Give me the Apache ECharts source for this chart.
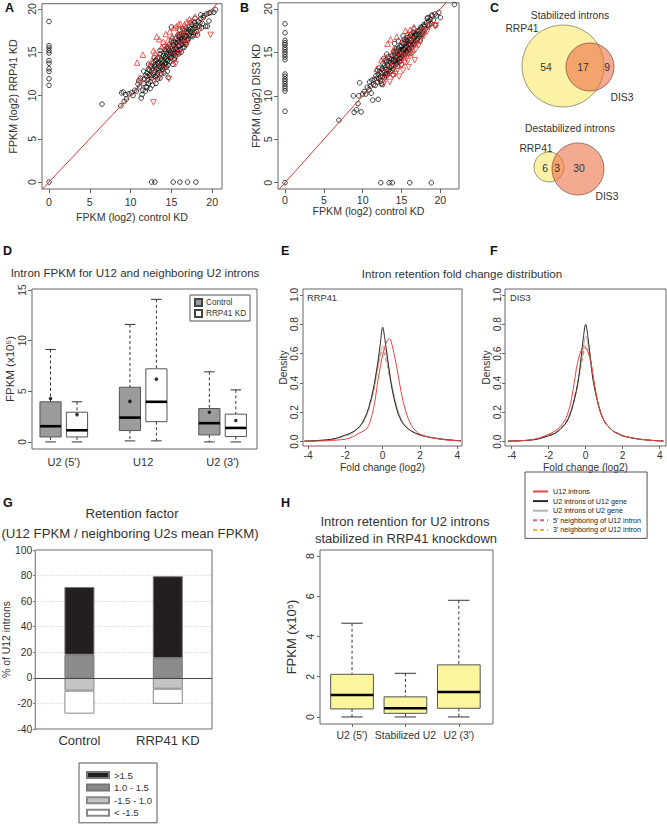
<!DOCTYPE html>
<html><head><meta charset="utf-8">
<script src="https://cdn.jsdelivr.net/npm/echarts@6/dist/echarts.min.js"></script>
<style>html,body{margin:0;padding:0;background:#fff}#c{width:667px;height:826px}</style>
</head><body><div id="c"></div>
<script>
// ---------------- DATA ----------------
const aBlack = [[8.8,8.8],[8.9,10.3],[9.1,10.4],[9.2,9.3],[9.4,10.1],[9.5,9.6],[9.8,10.2],[10.1,10.3],[10.3,10.0],[10.5,10.6],[10.7,10.5],[10.9,11.3],[11.0,11.7],[11.1,11.0],[11.3,9.7],[11.4,10.1],[11.5,10.6],[11.2,12.0],[11.6,11.4],[11.8,12.3],[11.9,11.0],[11.7,11.9],
[12.0,12.6],[12.1,11.8],[12.2,13.0],[12.3,12.4],[12.4,11.6],[12.5,13.4],[12.6,12.9],[12.6,12.0],[12.7,11.2],[12.8,13.8],[12.9,12.7],[12.0,12.2],[12.3,12.9],[12.5,12.3],[12.7,13.1],[12.9,13.5],[12.2,11.4],[12.8,12.4],
[13.0,13.3],[13.0,12.2],[13.1,14.1],[13.2,13.0],[13.3,12.6],[13.4,13.7],[13.5,14.4],[13.5,12.9],[13.6,13.4],[13.7,14.0],[13.8,12.5],[13.9,13.6],[13.1,13.6],[13.3,14.3],[13.4,13.1],[13.6,14.8],[13.7,13.2],[13.8,14.2],[13.9,13.0],[13.2,12.3],[13.5,13.8],[13.8,13.7],[13.0,14.0],[13.6,12.0],
[14.0,14.6],[14.0,13.9],[14.1,13.2],[14.2,14.3],[14.3,15.1],[14.3,13.7],[14.4,14.8],[14.5,14.0],[14.5,12.8],[14.6,15.4],[14.7,14.5],[14.8,13.9],[14.8,15.9],[14.9,15.0],[14.1,14.9],[14.2,13.6],[14.4,14.2],[14.6,14.1],[14.7,15.2],[14.9,14.4],[14.0,13.4],[14.3,14.5],[14.5,15.6],[14.8,14.7],[14.2,15.3],[14.6,13.5],[14.9,15.6],[14.4,13.3],
[15.0,14.4],[15.0,16.3],[15.1,15.4],[15.2,14.8],[15.2,13.6],[15.3,15.8],[15.4,15.1],[15.5,16.6],[15.5,14.6],[15.6,15.5],[15.7,16.1],[15.8,15.0],[15.9,16.8],[15.9,15.7],[15.0,15.2],[15.1,14.9],[15.3,16.2],[15.4,14.3],[15.6,16.0],[15.7,15.2],[15.8,16.4],[15.2,15.9],[15.5,15.3],[15.9,14.8],[15.1,16.6],[15.6,14.9],[15.3,15.0],[15.8,15.8],
[16.0,16.2],[16.1,15.3],[16.2,17.1],[16.2,16.5],[16.3,15.9],[16.4,16.9],[16.5,16.2],[16.6,17.5],[16.6,15.6],[16.7,16.8],[16.8,17.8],[16.9,16.4],[16.0,15.7],[16.1,16.7],[16.3,16.4],[16.4,15.5],[16.5,17.2],[16.7,16.1],[16.8,16.9],[16.9,17.3],[16.2,15.0],[16.6,16.6],[16.0,17.0],[16.4,16.2],
[17.0,17.2],[17.1,16.6],[17.2,17.9],[17.3,17.4],[17.4,16.9],[17.5,18.2],[17.6,17.6],[17.7,17.0],[17.8,18.4],[17.9,17.8],[17.0,16.4],[17.2,17.0],[17.4,17.7],[17.6,16.8],[17.8,17.3],[17.1,17.6],[17.5,17.3],[17.9,18.1],
[18.0,18.1],[18.1,17.4],[18.3,18.6],[18.4,18.0],[18.6,18.9],[18.8,18.3],[19.0,19.2],[19.2,18.0],[19.4,18.0],[19.6,19.5],[20.2,19.6],[20.4,19.9],[18.2,17.9],[18.5,18.4],[18.9,19.0],[19.3,19.4],[19.8,19.6],[18.7,17.8],
[15.0,17.9],[12.2,13.6],[12.9,14.4],[13.6,15.2],[14.2,15.7],[11.6,12.8],[15.8,17.0],[16.4,17.7],[17.9,18.9],[18.6,19.3],[19.6,18.6],[18.2,17.0],[16.8,15.9],[15.4,14.2],[14.1,12.6],[13.3,11.9],[12.0,10.9],[16.0,17.6],[17.3,18.4],[14.6,12.1],[12.4,10.8],[11.8,10.5],[13.1,11.4],
[6.5,9.0],[0,0],[0,18.55],[0,15.76],[0,15.49],[0,15.18],[0,14.91],[0,14.03],[0,13.73],[0,13.08],[0,12.77],[0,11.93],[0,11.17],
[12.57,0],[12.98,0],[15.22,0],[16.04,0],[16.98,0],[18.0,0]];
const aUp = [[10.8,13.8],[11.1,12.0],[11.5,14.7],[12.3,13.5],[12.8,15.2],[13.0,14.9],[13.2,16.8],[13.5,16.5],[13.8,15.6],[14.0,16.2],[14.3,17.1],[14.6,16.4],[14.8,17.4],[15.0,16.0],[15.3,17.8],[15.6,18.0],[15.8,17.1],[16.1,18.3],[16.3,17.3],[16.6,18.2],[16.9,18.5],[17.2,18.8],[17.5,18.6],[17.9,19.1],[14.5,15.7],[15.1,16.8],[13.4,14.5],[12.6,14.0],[15.9,18.2],[16.5,17.6]];
const aDown = [[12.8,9.2],[12.9,11.6],[14.7,11.9],[13.6,12.3],[15.5,13.6],[15.6,14.6],[16.0,14.9],[17.0,16.1],[18.0,17.0],[18.4,17.5],[19.8,17.0],[16.8,16.0],[15.2,14.0],[14.2,13.1]];

const bBlack = [[8.8,10.0],[8.9,8.1],[9.2,8.4],[9.4,9.1],[9.6,11.5],[9.8,8.15],[9.5,10.0],[10.0,10.2],[10.2,10.5],[10.4,10.2],[10.6,11.0],[10.8,10.7],[10.9,11.6],[11.0,11.1],[11.1,10.3],[11.2,11.8],[11.3,9.5],[11.4,11.3],[11.5,11.9],[11.6,11.2],[11.7,12.3],[11.8,12.0],[11.9,11.6],[12.0,9.6],[12.0,12.5],[12.1,12.0],[12.2,12.8],[12.3,11.7],[12.4,12.6],[12.5,13.1],[12.6,12.2],[12.7,12.9],[12.8,13.5],[12.9,12.5],[12.1,13.2],[12.3,12.2],[12.6,13.7],[12.8,12.1],[12.4,11.4],[12.9,13.2],
[13.0,13.0],[13.0,14.1],[13.1,12.6],[13.2,13.5],[13.3,12.9],[13.4,14.0],[13.5,13.3],[13.6,12.8],[13.7,14.2],[13.8,13.6],[13.9,13.1],[13.1,13.9],[13.3,14.5],[13.5,14.3],[13.6,13.8],[13.8,14.6],[13.9,14.0],[13.2,12.4],[13.4,13.0],[13.7,13.4],[13.0,12.3],[13.8,12.9],
[14.0,14.2],[14.0,13.5],[14.1,14.8],[14.2,14.0],[14.3,13.6],[14.4,14.6],[14.5,15.2],[14.5,14.1],[14.6,14.7],[14.7,13.9],[14.8,15.0],[14.9,14.5],[14.1,13.9],[14.2,15.1],[14.3,14.4],[14.4,13.8],[14.6,15.5],[14.7,14.3],[14.8,15.7],[14.9,14.0],[14.0,15.1],[14.3,15.4],[14.5,13.4],[14.7,15.1],[14.2,14.6],[14.9,15.3],[14.4,15.0],[14.8,14.3],
[15.0,15.0],[15.0,15.7],[15.1,14.6],[15.2,15.4],[15.3,16.0],[15.3,14.9],[15.4,15.5],[15.5,16.2],[15.5,14.8],[15.6,15.7],[15.7,15.2],[15.8,16.3],[15.8,15.5],[15.9,15.9],[15.1,16.1],[15.2,14.8],[15.4,16.5],[15.6,15.1],[15.7,16.0],[15.9,15.3],[15.0,14.3],[15.3,15.3],[15.6,16.4],[15.8,14.9],[15.1,15.2],[15.4,14.6],[15.7,16.7],[15.5,15.5],
[16.0,16.0],[16.0,15.4],[16.1,16.6],[16.2,15.9],[16.3,16.4],[16.3,15.6],[16.4,16.8],[16.5,16.2],[16.6,16.6],[16.7,16.0],[16.8,17.0],[16.9,16.5],[16.1,15.8],[16.2,17.0],[16.4,16.0],[16.5,17.3],[16.6,15.9],[16.7,16.9],[16.9,17.2],[16.0,16.8],[16.3,17.1],[16.8,16.3],
[17.0,17.0],[17.1,16.6],[17.2,17.5],[17.3,17.1],[17.4,17.6],[17.5,17.0],[17.6,17.8],[17.7,17.4],[17.8,18.0],[17.9,17.5],[17.1,17.4],[17.3,16.8],[17.5,17.9],[17.7,17.1],[17.9,18.2],[17.2,16.9],[17.6,17.3],[17.0,16.4],
[18.0,18.0],[18.1,17.7],[18.2,18.4],[18.3,18.9],[18.4,18.1],[18.5,18.6],[18.7,18.8],[18.8,18.3],[19.0,19.2],[19.1,18.7],[19.3,19.4],[19.5,19.2],[19.8,19.6],[20.0,19.0],[18.4,19.0],[18.9,19.3],[21.8,20.5],[19.4,18.1],[18.6,18.2],
[13.1,14.8],[14.1,16.0],[15.2,16.9],[16.6,17.7],[12.5,11.3],[13.9,12.4],[15.0,13.6],[16.2,14.9],[17.4,16.3],[11.9,12.9],[12.7,14.3],[14.6,16.3],
[6.94,7.19],[0,0],[0,18.28],[0,17.25],[0,16.37],[0,16.1],[0,15.87],[0,15.56],[0,15.3],[0,15.03],[0,14.76],[0,14.46],[0,14.15],[0,12.5],[0,12.24],[0,11.93],[0,11.66],[0,11.4],[0,11.1],[0,10.83],[0,10.55],[0,8.22],
[12.33,0],[13.4,0],[13.8,0],[16.06,0],[18.84,0]];
const bUp = [[11.8,13.1],[12.4,14.1],[13.2,16.0],[13.6,16.5],[14.0,15.4],[14.6,15.1],[15.5,17.5],[15.8,17.2],[16.1,17.6],[12.9,14.4],[13.8,14.9],[15.1,16.4],[16.6,17.9],[14.4,16.8]];
const bDown = [[12.9,11.9],[13.5,11.6],[13.9,12.3],[14.2,12.5],[14.5,13.0],[14.7,12.2],[15.0,13.5],[15.2,12.9],[15.4,13.8],[15.6,14.3],[15.8,14.0],[16.0,14.7],[16.2,15.2],[16.4,14.8],[16.6,15.6],[16.8,15.3],[17.0,16.0],[17.2,15.8],[17.4,16.4],[17.6,16.7],[17.9,16.9],[18.3,17.4],[18.6,18.0],[19.4,18.1],[16.7,14.1],[15.9,13.3],[14.9,14.0],[13.2,12.6],[12.7,11.3],[14.0,13.3],[15.3,14.6],[17.7,17.4],[19.3,18.0],[16.2,16.5]];
const identityLine = [[-2,-2],[24,24]];
const scatterTicks = [0,5,10,15,20];

const vennSets = ['RRP41','DIS3'];
const vennStabilized = [54,17,9];
const vennDestabilized = [6,3,30];

const dCats = ["U2 (5')", 'U12', "U2 (3')"];
const dControl = [[0,0.49,1.55,3.96,9.13],[0.1,1.12,2.4,5.4,11.6],[0,0.69,1.85,3.3,6.92]];
const dKD = [[0,0.49,1.15,2.93,3.96],[0.1,2.0,3.96,7.22,14.08],[0,0.53,1.38,2.74,5.14]];
const dControlMean = [4.29,4.0,2.93];
const dKDMean = [2.7,6.2,2.11];

const foldX = [-4.2,-4,-3.5,-3,-2.5,-2,-1.75,-1.5,-1.25,-1,-0.75,-0.5,-0.375,-0.25,-0.125,0,0.125,0.25,0.375,0.5,0.75,1,1.25,1.5,1.75,2,2.5,3,3.5,4,4.2];
const eU12 = [.002,.002,.004,.006,.01,.016,.025,.04,.058,.075,.11,.22,.31,.42,.51,.59,.65,.69,.70,.66,.51,.33,.2,.12,.075,.05,.03,.018,.01,.006,.005];
const eU2ofU12 = [.003,.004,.007,.012,.022,.045,.056,.075,.10,.15,.23,.36,.45,.55,.67,.78,.69,.58,.46,.36,.22,.14,.10,.075,.058,.045,.03,.02,.012,.007,.006];
const eU2ofU2 = [.003,.004,.007,.012,.02,.04,.05,.07,.10,.14,.22,.34,.42,.51,.59,.65,.62,.55,.46,.38,.24,.15,.10,.075,.058,.045,.03,.02,.012,.007,.006];
const e5p = [.003,.004,.007,.012,.022,.042,.052,.072,.10,.145,.23,.35,.44,.53,.60,.62,.58,.52,.44,.37,.23,.15,.10,.075,.058,.045,.03,.02,.012,.007,.006];
const e3p = [.003,.004,.007,.012,.021,.04,.05,.07,.098,.14,.22,.33,.41,.50,.57,.63,.63,.56,.47,.38,.24,.15,.10,.075,.058,.045,.03,.02,.012,.007,.006];
const fU12 = [.003,.004,.006,.012,.025,.05,.065,.087,.12,.18,.30,.50,.57,.62,.65,.64,.61,.56,.47,.37,.22,.14,.10,.07,.052,.04,.025,.015,.009,.005,.004];
const fU2ofU12 = [.003,.004,.006,.01,.02,.04,.05,.07,.10,.14,.22,.35,.44,.57,.71,.80,.71,.57,.44,.35,.22,.14,.10,.07,.055,.04,.025,.015,.009,.005,.004];
const fU2ofU2 = [.003,.004,.006,.01,.02,.04,.05,.07,.10,.14,.22,.34,.43,.54,.64,.72,.66,.56,.45,.36,.22,.14,.10,.07,.055,.04,.025,.015,.009,.005,.004];
const f5p = [.003,.004,.006,.011,.022,.045,.055,.075,.105,.15,.23,.36,.44,.53,.61,.64,.62,.55,.45,.36,.22,.14,.10,.07,.055,.04,.025,.015,.009,.005,.004];
const f3p = [.003,.004,.006,.01,.02,.04,.05,.07,.10,.14,.22,.34,.42,.51,.59,.65,.66,.59,.48,.38,.23,.145,.10,.07,.055,.04,.025,.015,.009,.005,.004];
const curveNames = ['U12 introns','U2 introns of U12 gene','U2 introns of U2 gene',"5' neighboring of U12 intron","3' neighboring of U12 intron"];
const foldTicks = [-4,-2,0,2,4];
const densTicks = [0,0.2,0.4,0.6,0.8,1.0];

const gCats = ['Control','RRP41 KD'];
const gNames = ['>1.5','1.0 - 1.5','-1.5 - 1.0','< -1.5'];
const gAbove15 = [53,64];
const g10to15 = [18,15.5];
const gM15to10 = [-10,-8.5];
const gBelowM15 = [-18,-11.8];

const hCats = ["U2 (5')", 'Stabilized U2', "U2 (3')"];
const hBoxes = [[0,0.40,1.09,2.12,4.66],[0,0.18,0.43,1.0,2.17],[0,0.43,1.24,2.59,5.8]];

// ---------------- STYLE ----------------
const FONT = 'Liberation Sans, Arial, sans-serif';
const TXT = '#333';
const FRAME = '#666';
const RED = '#e23a33';

function xy(xs, ys){ return xs.map((x,i)=>[x, ys[i]]); }

function vAxis(o){
  const a = {
    gridIndex:o.g, type:'value', min:o.min, max:o.max,
    axisLine:{show:false, onZero:false}, splitLine:{show:false},
    axisTick:{show:o.tick!==false, length:o.tickLen||4, inside:false, lineStyle:{color:FRAME}},
    axisLabel:{fontSize:o.fs||10.6, color:TXT, fontFamily:FONT, margin:o.margin||5, rotate:o.rotate||0, hideOverlap:false},
    name:o.name||'', nameLocation:'middle', nameGap:o.nameGap||20,
    nameTextStyle:{fontSize:o.nfs||10.6, color:TXT, fontFamily:FONT}
  };
  if (o.ticks){ a.axisTick.customValues = o.ticks; a.axisLabel.customValues = o.ticks; }
  if (o.formatter) a.axisLabel.formatter = o.formatter;
  return a;
}

function boxRender(fill, boxW){
  return function(params, api){
    const x = api.value(0);
    const lo = api.coord([x, api.value(1)]);
    const q1 = api.coord([x, api.value(2)]);
    const md = api.coord([x, api.value(3)]);
    const q3 = api.coord([x, api.value(4)]);
    const hi = api.coord([x, api.value(5)]);
    const hw = api.size([boxW, 0])[0] / 2;
    const cx = lo[0];
    const dash = {stroke:'#333', lineWidth:1, lineDash:[3,2.5], fill:null};
    const solid = {stroke:'#333', lineWidth:1, fill:null};
    return {type:'group', children:[
      {type:'line', shape:{x1:cx,y1:hi[1],x2:cx,y2:q3[1]}, style:dash},
      {type:'line', shape:{x1:cx,y1:q1[1],x2:cx,y2:lo[1]}, style:dash},
      {type:'line', shape:{x1:cx-hw/2,y1:hi[1],x2:cx+hw/2,y2:hi[1]}, style:solid},
      {type:'line', shape:{x1:cx-hw/2,y1:lo[1],x2:cx+hw/2,y2:lo[1]}, style:solid},
      {type:'rect', shape:{x:cx-hw,y:q3[1],width:2*hw,height:q1[1]-q3[1]}, style:{fill:fill, stroke:'#555', lineWidth:1}},
      {type:'line', shape:{x1:cx-hw,y1:md[1],x2:cx+hw,y2:md[1]}, style:{stroke:'#000', lineWidth:2.6}}
    ]};
  };
}

const gridBase = {show:true, borderColor:FRAME, borderWidth:1, backgroundColor:'transparent', containLabel:false};
const grids = [
  Object.assign({left:42, top:2, width:180, height:187}, gridBase),
  Object.assign({left:278, top:2, width:181, height:187}, gridBase),
  Object.assign({left:32, top:289, width:225, height:160}, gridBase),
  Object.assign({left:303, top:289, width:159, height:157}, gridBase),
  Object.assign({left:505, top:289, width:161, height:157}, gridBase),
  Object.assign({left:31, top:550, width:181, height:179}, gridBase),
  Object.assign({left:320, top:550, width:173, height:174}, gridBase)
];

const xAxes = [
  vAxis({g:0, min:-0.86, max:21.2, ticks:scatterTicks, margin:7, name:'FPKM (log2) control KD', nameGap:22}),
  vAxis({g:1, min:-0.9, max:22.4, ticks:scatterTicks, margin:5, name:'FPKM (log2) control KD', nameGap:16}),
  vAxis({g:2, min:0.3, max:8.8, ticks:[1.5,4.5,7.5], tick:false, margin:7, fs:11,
         formatter:v=>dCats[Math.round((v-1.5)/3)]}),
  vAxis({g:3, min:-4.27, max:4.25, ticks:foldTicks, tickLen:3, margin:4, fs:10.2, name:'Fold change (log2)', nameGap:16, nfs:10.2}),
  vAxis({g:4, min:-4.36, max:4.34, ticks:foldTicks, tickLen:3, margin:4, fs:10.2, name:'Fold change (log2)', nameGap:16, nfs:10.2}),
  {gridIndex:5, type:'category', data:gCats, axisLine:{show:false}, splitLine:{show:false},
   axisTick:{show:true, alignWithLabel:true, length:4, lineStyle:{color:FRAME}},
   axisLabel:{fontSize:13, color:TXT, fontFamily:FONT, margin:5}},
  vAxis({g:6, min:0.4, max:3.64, ticks:[1,2,3], tickLen:3, margin:6, fs:10.4,
         formatter:v=>hCats[Math.round(v)-1]})
];
const yAxes = [
  vAxis({g:0, min:-0.8, max:20.6, ticks:scatterTicks, rotate:90, margin:5, name:'FPKM (log2) RRP41 KD', nameGap:24}),
  vAxis({g:1, min:-0.72, max:20.7, ticks:scatterTicks, rotate:90, margin:5, name:'FPKM (log2) DIS3 KD', nameGap:16}),
  vAxis({g:2, min:-0.7, max:15.1, ticks:[0,5,10,15], rotate:90, margin:5, fs:10.2, name:'FPKM (x10\u2075)', nameGap:16, nfs:11.5}),
  vAxis({g:3, min:-0.03, max:1.04, ticks:densTicks, rotate:90, tickLen:3, margin:4, fs:10.2, formatter:v=>v.toFixed(1), name:'Density', nameGap:15, nfs:10.2}),
  vAxis({g:4, min:-0.03, max:1.04, ticks:densTicks, rotate:90, tickLen:3, margin:3, fs:10.2, formatter:v=>v.toFixed(1), name:'Density', nameGap:13, nfs:10.2}),
  {gridIndex:5, type:'value', min:-40, max:100, interval:20, axisLine:{show:false},
   splitLine:{show:true, lineStyle:{color:'#c8c8c8', type:[1,2], width:1}},
   axisTick:{show:true, length:2, lineStyle:{color:FRAME}},
   axisLabel:{fontSize:10.4, color:TXT, fontFamily:FONT, margin:3},
   name:'% of U12 introns', nameLocation:'middle', nameGap:18, nameTextStyle:{fontSize:10.4, color:TXT, fontFamily:FONT}},
  vAxis({g:6, min:-0.35, max:8.3, ticks:[0,2,4,6,8], rotate:90, tickLen:3, margin:5, fs:10.6, name:'FPKM (x10\u2075)', nameGap:22, nfs:13})
];

const circleStyle = {color:'rgba(0,0,0,0)', borderColor:'#111', borderWidth:1};
const triStyle = {color:'rgba(0,0,0,0)', borderColor:RED, borderWidth:1};
function scatterSet(idx, black, up, down){
  return [
    {type:'scatter', xAxisIndex:idx, yAxisIndex:idx, data:black, symbol:'circle', symbolSize:4.6, itemStyle:circleStyle, silent:true, z:2},
    {type:'scatter', xAxisIndex:idx, yAxisIndex:idx, data:up, symbol:'triangle', symbolSize:5.5, itemStyle:triStyle, silent:true, z:3},
    {type:'scatter', xAxisIndex:idx, yAxisIndex:idx, data:down, symbol:'triangle', symbolRotate:180, symbolSize:5.5, itemStyle:triStyle, silent:true, z:3},
    {type:'line', xAxisIndex:idx, yAxisIndex:idx, data:identityLine, symbol:'none', lineStyle:{color:RED, width:1}, silent:true, z:4, clip:true}
  ];
}

const curveStyles = [
  {color:'#e8453e', type:'solid'},
  {color:'#2a2a2a', type:'solid'},
  {color:'#b4b4b4', type:'solid'},
  {color:'#e0607e', type:[4,3]},
  {color:'#f0b53a', type:[4,3]}
];
function curves(idx, arrs){
  return arrs.map((ys,i)=>({
    type:'line', name:curveNames[i], xAxisIndex:idx, yAxisIndex:idx, data:xy(foldX, ys),
    symbol:'none', smooth:0.35, color:curveStyles[i].color,
    lineStyle:{color:curveStyles[i].color, width:1, type:curveStyles[i].type}, silent:true,
    z: i===0 ? 6 : 5 - i
  }));
}

const series = [].concat(
  scatterSet(0, aBlack, aUp, aDown),
  scatterSet(1, bBlack, bUp, bDown),
  [
    {type:'custom', name:'Control', xAxisIndex:2, yAxisIndex:2, renderItem:boxRender('#9b9b9b', 0.8),
     data:dControl.map((b,i)=>[3*i+1].concat(b)), encode:{x:0, y:[1,2,3,4,5]},
     itemStyle:{color:'#9b9b9b', borderColor:'#444', borderWidth:1}, silent:true},
    {type:'custom', name:'RRP41 KD', xAxisIndex:2, yAxisIndex:2, renderItem:boxRender('#ffffff', 0.8),
     data:dKD.map((b,i)=>[3*i+2].concat(b)), encode:{x:0, y:[1,2,3,4,5]},
     itemStyle:{color:'#ffffff', borderColor:'#444', borderWidth:1}, silent:true},
    {type:'scatter', xAxisIndex:2, yAxisIndex:2, symbol:'circle', symbolSize:3.6, itemStyle:{color:'#000'}, z:5, silent:true,
     data:dControlMean.map((m,i)=>[3*i+1, m]).concat(dKDMean.map((m,i)=>[3*i+2, m]))}
  ],
  curves(3, [eU12, eU2ofU12, eU2ofU2, e5p, e3p]),
  curves(4, [fU12, fU2ofU12, fU2ofU2, f5p, f3p]),
  [
    {type:'bar', name:gNames[1], xAxisIndex:5, yAxisIndex:5, stack:'g', data:g10to15, barWidth:30,
     itemStyle:{color:'#8c8c8c', borderColor:'#777', borderWidth:1}, silent:true,
     markLine:{silent:true, symbol:'none', label:{show:false}, lineStyle:{color:'#444', width:1, type:'solid'}, data:[{yAxis:0}]}},
    {type:'bar', name:gNames[0], xAxisIndex:5, yAxisIndex:5, stack:'g', data:gAbove15, barWidth:30,
     itemStyle:{color:'#231f20', borderColor:'#777', borderWidth:1}, silent:true},
    {type:'bar', name:gNames[2], xAxisIndex:5, yAxisIndex:5, stack:'g', data:gM15to10, barWidth:30,
     itemStyle:{color:'#c4c4c4', borderColor:'#888', borderWidth:1}, silent:true},
    {type:'bar', name:gNames[3], xAxisIndex:5, yAxisIndex:5, stack:'g', data:gBelowM15, barWidth:30,
     itemStyle:{color:'#ffffff', borderColor:'#888', borderWidth:1}, silent:true},
    {type:'custom', xAxisIndex:6, yAxisIndex:6, renderItem:boxRender('#fbf59c', 0.8),
     data:hBoxes.map((b,i)=>[i+1].concat(b)), encode:{x:0, y:[1,2,3,4,5]}, silent:true}
  ]
);

const legends = [
  {data:['Control','RRP41 KD'], left:190, top:295, orient:'vertical', padding:[3,4,3,4], itemGap:2,
   itemWidth:7, itemHeight:7, icon:'rect', borderColor:'#555', borderWidth:1, selectedMode:false,
   textStyle:{fontSize:8.2, color:TXT, fontFamily:FONT, padding:[0,0,0,-1]}},
  {data:curveNames, left:525, top:472, orient:'vertical', padding:[16,6,5,7], itemGap:2.6,
   itemWidth:15, itemHeight:7, borderColor:'#555', borderWidth:1, selectedMode:false,
   itemStyle:{color:'rgba(0,0,0,0)', borderColor:'rgba(0,0,0,0)', borderWidth:0},
   textStyle:{fontSize:7.2, color:'#222', fontFamily:FONT}},
  {data:gNames, left:79, top:763, orient:'vertical', padding:[7,5,5,7], itemGap:2.6,
   itemWidth:22, itemHeight:6, icon:'rect', borderColor:'#555', borderWidth:1, selectedMode:false,
   textStyle:{fontSize:9.5, color:TXT, fontFamily:FONT}}
];

function txt(x, y, s, size, opts){
  opts = opts || {};
  return {type:'text', x:x, y:y, silent:true, z:10,
    style:{text:s, fill:opts.color||TXT, fontSize:size, fontFamily:FONT, fontWeight:opts.bold?'bold':'normal',
      textAlign:opts.align||'center', textVerticalAlign:'middle', align:opts.align||'center', verticalAlign:'middle'}};
}
const vennYellow = '#fcf2a6', vennOrange = 'rgba(236,112,72,0.6)';
const graphics = [
  txt(5, 8, 'A', 12.5, {bold:true, align:'left', color:'#111'}),
  txt(240, 8, 'B', 12.5, {bold:true, align:'left', color:'#111'}),
  txt(490, 8, 'C', 12.5, {bold:true, align:'left', color:'#111'}),
  txt(3, 251, 'D', 12.5, {bold:true, align:'left', color:'#111'}),
  txt(281, 251, 'E', 12.5, {bold:true, align:'left', color:'#111'}),
  txt(490, 251, 'F', 12.5, {bold:true, align:'left', color:'#111'}),
  txt(3, 503, 'G', 12.5, {bold:true, align:'left', color:'#111'}),
  txt(281, 503, 'H', 12.5, {bold:true, align:'left', color:'#111'}),
  txt(135, 272, 'Intron FPKM for U12 and neighboring U2 introns', 11.6),
  txt(462, 273, 'Intron retention fold change distribution', 11.6),
  txt(132, 513, 'Retention factor', 13.2),
  txt(130, 533, '(U12 FPKM / neighboring U2s mean FPKM)', 13.2),
  txt(405, 521, 'Intron retention for U2 introns', 13),
  txt(406, 538, 'stabilized in RRP41 knockdown', 13),
  txt(307, 298, 'RRP41', 9.3, {align:'left'}),
  txt(510, 298, 'DIS3', 9.3, {align:'left'}),
  txt(570, 15, 'Stabilized introns', 10.3),
  {type:'circle', shape:{cx:563, cy:66, r:41}, style:{fill:vennYellow, stroke:'#8c7d5c', lineWidth:0.8}, silent:true, z:5},
  {type:'circle', shape:{cx:590, cy:67, r:24}, style:{fill:vennOrange, stroke:'#8a5a48', lineWidth:0.8}, silent:true, z:6},
  txt(522, 28, vennSets[0], 10.3),
  txt(622, 97, vennSets[1], 10.3),
  txt(546, 67, String(vennStabilized[0]), 10.3),
  txt(583, 67, String(vennStabilized[1]), 10.3),
  txt(607, 67, String(vennStabilized[2]), 10.3),
  txt(570, 128, 'Destabilized introns', 10.3),
  {type:'circle', shape:{cx:549, cy:167, r:15}, style:{fill:vennYellow, stroke:'#8c7d5c', lineWidth:0.8}, silent:true, z:5},
  {type:'circle', shape:{cx:578, cy:169, r:26}, style:{fill:vennOrange, stroke:'#8a5a48', lineWidth:0.8}, silent:true, z:6},
  txt(536, 148, vennSets[0], 10.3),
  txt(607, 196, vennSets[1], 10.3),
  txt(545, 168, String(vennDestabilized[0]), 10.3),
  txt(557, 168, String(vennDestabilized[1]), 10.3),
  txt(579, 168, String(vennDestabilized[2]), 10.3)
];

const chart = echarts.init(document.getElementById('c'), null, {renderer:'svg', width:667, height:826});
chart.setOption({
  animation:false,
  backgroundColor:'#ffffff',
  textStyle:{fontFamily:FONT},
  grid:grids, xAxis:xAxes, yAxis:yAxes, series:series, legend:legends, graphic:graphics
});
</script></body></html>
